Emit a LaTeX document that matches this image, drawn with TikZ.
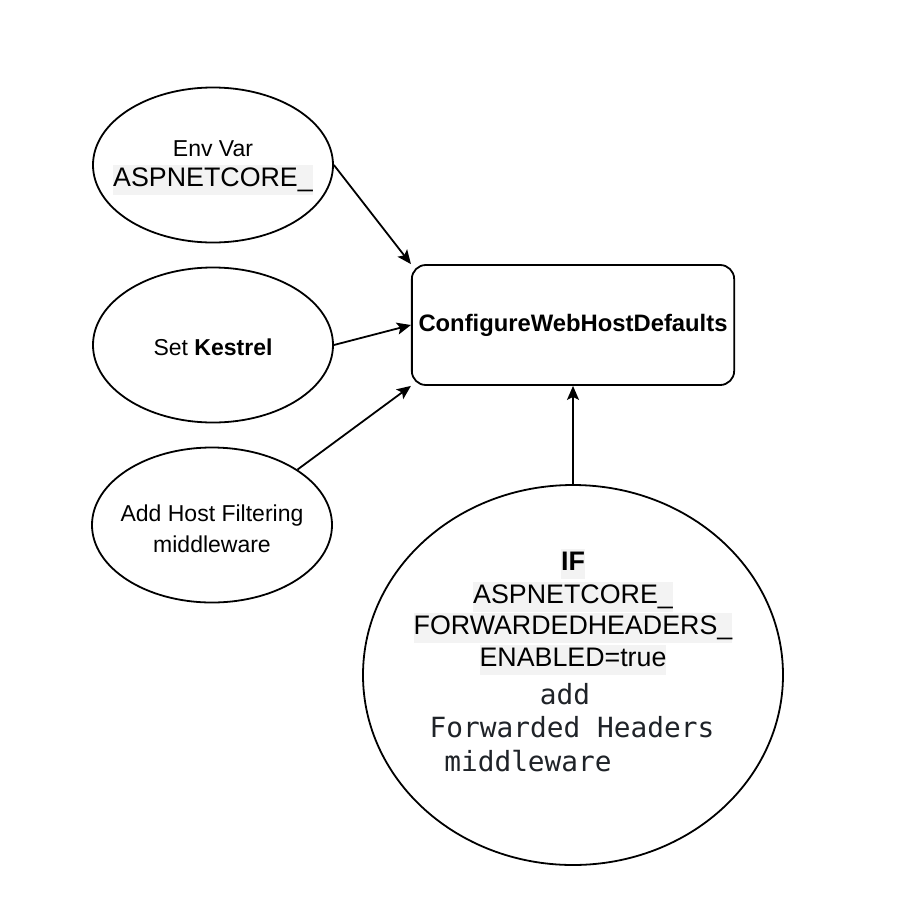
\documentclass[tikz,border=0pt]{standalone}
\usepackage{fontspec}
\setmainfont{Liberation Sans}
\setmonofont{DejaVu Sans Mono}
\usetikzlibrary{shapes.geometric,arrows.meta}
\definecolor{hlgray}{HTML}{F3F3F3}
\definecolor{codeink}{HTML}{1F2328}
\newcommand{\hl}[1]{{\setlength{\fboxsep}{0pt}\colorbox{hlgray}{\fontsize{13.4}{15}\selectfont\strut #1}}}
\tikzset{
  bubble/.style={ellipse,draw,line width=0.9pt,inner sep=0pt,minimum width=120pt,minimum height=77.5pt},
  bigbubble/.style={ellipse,draw,line width=0.9pt,inner sep=0pt,minimum width=210pt,minimum height=190pt},
  words/.style={align=center,inner sep=0pt,font=\fontsize{11.5}{15}\selectfont},
  box/.style={draw,line width=0.9pt,rounded corners=7pt,minimum width=160pt,minimum height=60pt,font=\fontsize{11.9}{14}\selectfont\bfseries},
  code/.style={text=codeink,font=\fontsize{13.9}{17}\selectfont\ttfamily},
  link/.style={line width=0.9pt,-{Stealth[length=7pt,width=6pt,inset=1.5pt]}}
}
\begin{document}
\begin{tikzpicture}[x=0.5pt,y=-0.5pt]
  \useasboundingbox (0,0) rectangle (910,900);
  \node[bubble] (env) at (213,165) {};
  \node[words] (envtext) at (213,168) {Env Var\\\hl{ASPNETCORE\_}};
  \node[bubble] (kes) at (213,345) {};
  \node[words] (kestext) at (213,347) {Set \textbf{Kestrel}};
  \node[bubble] (host) at (212,525) {};
  \node[words,font=\fontsize{11.5}{15.5}\selectfont] (hosttext) at (212,529) {Add Host Filtering\\middleware};
  \node[box] (cfg) at (573,325) {ConfigureWebHostDefaults};
  \node[bigbubble] (fwd) at (573,675) {};
  \node (fw0) at (573,564) {\hl{\bfseries IF}};
  \foreach \y/\t [count=\i] in {597/ASPNETCORE\_,628/FORWARDEDHEADERS\_,660/ENABLED=true}
    \node (fw\i) at (573,\y) {\hl{\t}};
  \foreach \x/\y/\t [count=\i from 4] in {565/694/add,572/727/Forwarded Headers,528/761/middleware}
    \node[code] (fw\i) at (\x,\y) {\t};
  \draw[link] (env.east) -- (cfg.north west);
  \draw[link] (kes.east) -- (cfg.west);
  \draw[link] (host.north east) -- (cfg.south west);
  \draw[link] (fwd.north) -- (cfg.south);
\end{tikzpicture}
\end{document}
